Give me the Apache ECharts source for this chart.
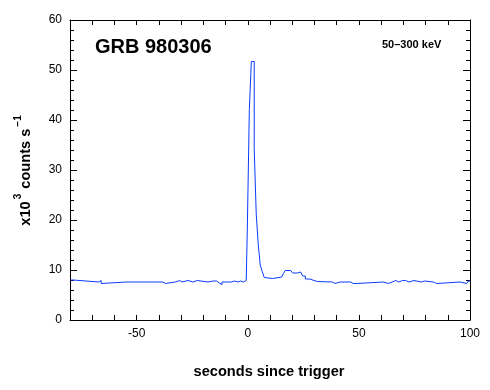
<!DOCTYPE html>
<html>
<head>
<meta charset="utf-8">
<script src="https://cdn.jsdelivr.net/npm/echarts@6/dist/echarts.min.js"></script>
<style>html,body{margin:0;padding:0;background:#fff;}#c{width:490px;height:390px;}</style>
</head>
<body>
<div id="c"></div>
<script>
// bin left edges (seconds since trigger) and count rates (x10^3 counts/s)
var binTimes = [-80, -78.6, -67, -66, -65.1, -54.8, -53.9, -38.2, -37.1, -32.6, -30.6, -29.6, -26.9, -24.7, -22.7,
  -17.9, -15.6, -14.9, -14, -12.8, -11.6, -7.4, -5.9, -4.4, -3.2, -2, -0.7,
  -0.2, 0.7, 1.6, 2.9, 3.8, 4.7, 5.6, 6.5, 7.4, 8.3, 11.2, 15.3, 16.0, 16.9, 19.3, 20.2, 22.3, 23.8, 24.7, 25.9, 28.0, 29.8, 31.3,
  38.2, 39.2, 41.5, 42.4, 46.3, 47.5, 48.3, 49.0, 61.0, 63.3, 65.0, 66.6, 68.0, 69.6, 70.3, 71.0, 72.6, 74.8, 78.1, 79.6,
  83.5, 85.0, 95.5, 98.5, 99.3, 100];
var binRates = [8.0, 7.6, 7.9, 7.3, 7.6, 7.9, 7.6, 7.3, 7.6, 7.9, 7.6, 7.9, 7.6, 7.9, 7.6,
  7.8, 7.6, 7.8, 7.4, 7.1, 7.6, 7.8, 7.6, 7.8, 7.6, 7.9, 7.6,
  18.4, 42.1, 51.7, 34.3, 21.2, 15.2, 11.0, 9.7, 8.5, 8.3, 8.6, 8.8, 9.3, 9.9, 9.7, 9.4, 9.6, 9.2, 8.8, 8.2, 7.9, 7.7, 7.6,
  7.3, 7.6, 7.3, 7.6, 7.3, 7.6, 7.3, 7.6, 7.3, 7.6, 7.9, 7.6, 7.9, 7.6, 7.9, 7.6, 7.9, 7.6, 7.8, 7.6,
  7.3, 7.6, 7.3, 7.6, 7.8, 7.8];
var xMajorTicks = [-50, 0, 50, 100];
var xLabels = ['-50', '0', '50', '100'];
var titleText = 'GRB 980306';
var bandText = '50–300 keV';
var xTitle = 'seconds since trigger';
var yTitle = '{a|x10}{s|3}{a| counts s}{s|−1}';

// step polyline built from the bins
var data = [];
binTimes.forEach(function (t, i) {
  if (i > 0) data.push([t, binRates[i - 1]]);
  data.push([t, binRates[i]]);
});

var chart = echarts.init(document.getElementById('c'), null, { renderer: 'canvas' });
chart.setOption({
  animation: false,
  backgroundColor: '#fff',
  grid: { left: 70, right: 20, top: 20, bottom: 70 },
  xAxis: [
    { type: 'value', position: 'bottom', min: -80, max: 100, interval: 10,
      axisLine: { show: true, onZero: false, lineStyle: { color: '#000', width: 1 } },
      axisTick: { show: true, inside: true, length: 5, lineStyle: { color: '#000', width: 1 } },
      splitLine: { show: false },
      axisLabel: { color: '#000', formatter: function (v) { var i = xMajorTicks.indexOf(v); return i >= 0 ? xLabels[i] : ''; } } },
    { type: 'value', position: 'top', min: -80, max: 100, interval: 10,
      axisLine: { show: true, onZero: false, lineStyle: { color: '#000', width: 1 } },
      axisTick: { show: true, inside: true, length: 5, lineStyle: { color: '#000', width: 1 } },
      splitLine: { show: false }, axisLabel: { show: false } }
  ],
  yAxis: [
    { type: 'value', position: 'left', min: 0, max: 60, interval: 10,
      axisLine: { show: true, onZero: false, lineStyle: { color: '#000', width: 1 } },
      axisTick: { show: true, inside: true, length: 7, lineStyle: { color: '#000', width: 1 } },
      minorTick: { show: true, splitNumber: 5, length: 4, lineStyle: { color: '#000', width: 1 } },
      splitLine: { show: false }, axisLabel: { color: '#000' } },
    { type: 'value', position: 'right', min: 0, max: 60, interval: 10,
      axisLine: { show: true, onZero: false, lineStyle: { color: '#000', width: 1 } },
      axisTick: { show: true, inside: true, length: 7, lineStyle: { color: '#000', width: 1 } },
      minorTick: { show: true, splitNumber: 5, length: 4, lineStyle: { color: '#000', width: 1 } },
      splitLine: { show: false }, axisLabel: { show: false } }
  ],
  graphic: [
    { type: 'text', x: 95, y: 47.5, style: { text: titleText, font: 'bold 20px "Liberation Sans"', fill: '#000', align: 'left', verticalAlign: 'middle' } },
    { type: 'text', x: 382, y: 45, style: { text: bandText, font: 'bold 11px "Liberation Sans"', fill: '#000', align: 'left', verticalAlign: 'middle' } },
    { type: 'text', x: 269, y: 372, style: { text: xTitle, font: 'bold 14.6px "Liberation Sans"', fill: '#000', align: 'center', verticalAlign: 'middle' } },
    { type: 'text', x: 23, y: 170, rotation: Math.PI / 2,
      style: { text: yTitle, fill: '#000', align: 'center', verticalAlign: 'middle',
        rich: {
          a: { font: 'bold 14.6px "Liberation Sans"', fill: '#000', verticalAlign: 'bottom', lineHeight: 20 },
          s: { font: 'bold 10px "Liberation Sans"', fill: '#000', verticalAlign: 'top', lineHeight: 20, padding: [0, 1, 0, 2] }
        } } }
  ],
  series: [{
    type: 'line', data: data, xAxisIndex: 0, yAxisIndex: 0,
    showSymbol: false, symbol: 'none',
    lineStyle: { color: '#0a3cff', width: 1 }
  }]
});
</script>
</body>
</html>
